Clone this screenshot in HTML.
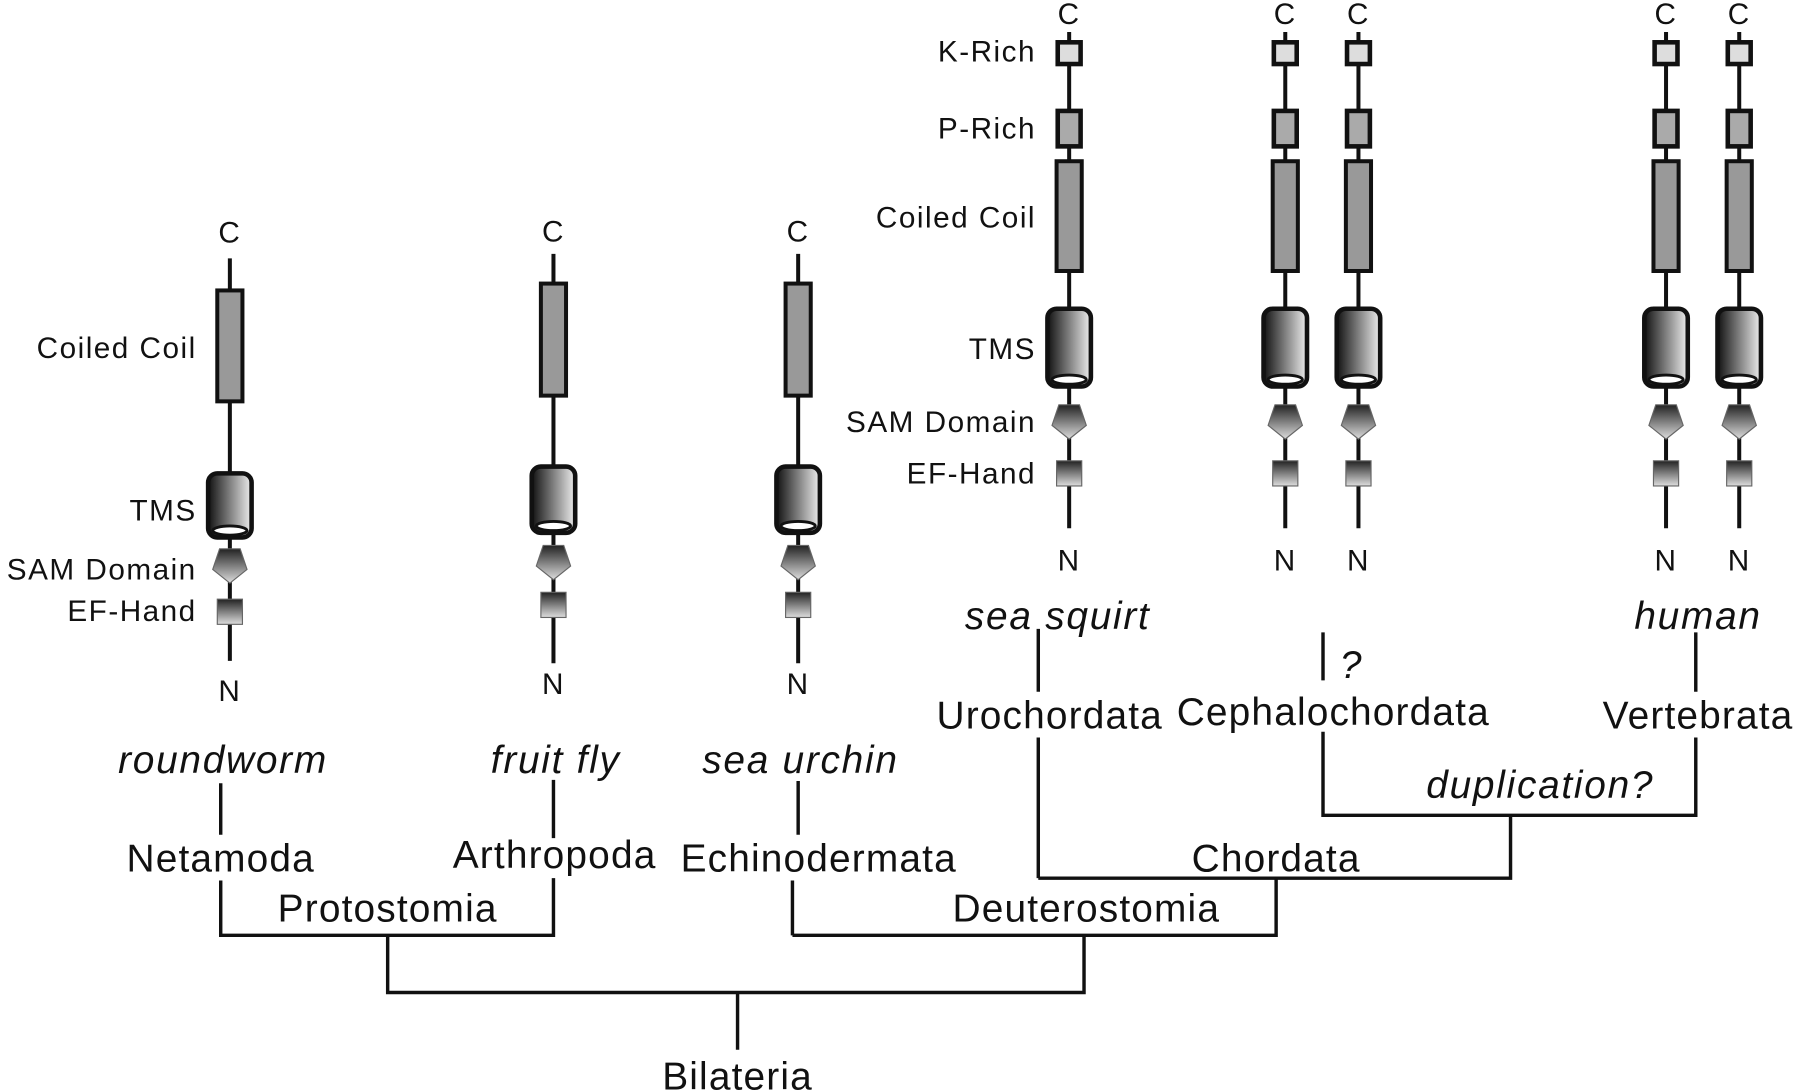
<!DOCTYPE html>
<html><head><meta charset="utf-8">
<style>
html,body{margin:0;padding:0;background:#fff;}
svg{display:block;}
text{font-family:"Liberation Sans",Arial,sans-serif;fill:#111;}
.t{font-size:34px;letter-spacing:1px;}
.i{font-size:34px;font-style:italic;letter-spacing:1.5px;}
.d{font-size:26px;letter-spacing:1.3px;}
</style></head>
<body>
<svg id="fig" width="1793" height="1092" viewBox="0 0 1568 955" xmlns="http://www.w3.org/2000/svg">
<defs>
<linearGradient id="cyl" x1="0" x2="1" y1="0" y2="0"><stop offset="0" stop-color="#111"/><stop offset="1" stop-color="#eee"/></linearGradient>
<linearGradient id="vg" x1="0" x2="0" y1="0" y2="1"><stop offset="0" stop-color="#222"/><stop offset="1" stop-color="#ddd"/></linearGradient>
</defs>
<g id="tree" stroke="#111" stroke-width="3" fill="none">
<path d="M193 685V730M193 770V818H484V768M484 682V733M339 818V868H948V818M693 818V770M698 683V730M693 818H1116V768M908 768H1321V713M908 768V645M908 550V605M1321 713H1157V640M1157 553V595M1157 713H1483V645M1483 553V605M645 868V918"/>
</g>
<g id="labels"></g>
<g id="prots"></g>
</svg>
<script>
const NS="http://www.w3.org/2000/svg";
const L=document.getElementById('labels'), P=document.getElementById('prots');
function mk(tag,attrs,parent){const e=document.createElementNS(NS,tag);for(const k in attrs)e.setAttribute(k,attrs[k]);parent.appendChild(e);return e;}
const treeLabels=[
["roundworm",195,676,"i"],["fruit fly",486,676,"i"],["sea urchin",700,676,"i"],
["sea squirt",925,550,"i"],["human",1485,550,"i"],["?",1182,593,"i"],
["Netamoda",193,762,"t"],["Arthropoda",485,759,"t"],["Echinodermata",716,762,"t"],
["Protostomia",339,806,"t"],["Deuterostomia",950,806,"t"],["Chordata",1116,762,"t"],
["Urochordata",918,637,"t"],["Cephalochordata",1166,634,"t"],["Vertebrata",1485,637,"t"],
["duplication?",1347,698,"i"],["Bilateria",645,953,"t"]];
treeLabels.forEach(l=>{const t=mk('text',{x:l[1],y:l[2],'text-anchor':'middle',class:l[3]},L);t.textContent=l[0];

});
const left=[[201,203,604,226,578,null,[254,351],[414,470],495,[524,546]],
[484,202,598,222,580,null,[248,346],[408,466],492,[518,540]],
[698,202,598,222,580,null,[248,346],[408,466],492,[518,540]]];
const rx=[935,1124,1188,1457,1521];
const right=rx.map(x=>[x,12,490,28,462,[[37,56],[97,128]],[141,237],[270,338],369,[403,425]]);
[...left,...right].forEach((p,idx)=>{
const [x,cy,ny,lt,lb,kp,coil,tms,pc,sq]=p;
const g=mk('g',{},P);


let t=mk('text',{x:x,y:cy+9,'text-anchor':'middle',class:'d'},g);t.textContent='C';
t=mk('text',{x:x,y:ny+9,'text-anchor':'middle',class:'d'},g);t.textContent='N';
mk('line',{x1:x,x2:x,y1:lt,y2:lb,stroke:'#111','stroke-width':3.5},g);
if(kp){mk('rect',{x:x-10,y:kp[0][0],width:20,height:kp[0][1]-kp[0][0],fill:'#ddd',stroke:'#111','stroke-width':4},g);
mk('rect',{x:x-10,y:kp[1][0],width:20,height:kp[1][1]-kp[1][0],fill:'#aaa',stroke:'#111','stroke-width':4},g);}
mk('rect',{x:x-11,y:coil[0],width:22,height:coil[1]-coil[0],fill:'#999',stroke:'#111','stroke-width':3.5},g);
const w=19,h=tms[1]-tms[0];
mk('rect',{x:x-w,y:tms[0],width:2*w,height:h,rx:8,fill:'url(#cyl)',stroke:'#111','stroke-width':4},g);
mk('ellipse',{cx:x,cy:tms[1]-6,rx:w-4,ry:4,fill:'#fff',stroke:'#111','stroke-width':2.5},g);
mk('polygon',{points:`${x-9},${pc-15} ${x+9},${pc-15} ${x+15},${pc+3} ${x},${pc+15} ${x-15},${pc+3}`,fill:'url(#vg)',stroke:'#666','stroke-width':1},g);
mk('rect',{x:x-11,y:sq[0],width:22,height:sq[1]-sq[0],fill:'url(#vg)',stroke:'#666','stroke-width':1},g);
});
const domainLabels=[["Coiled Coil",172,313],["TMS",172,455],["SAM Domain",172,507],["EF-Hand",172,543],
["K-Rich",906,54],["P-Rich",906,121],["Coiled Coil",906,199],["TMS",906,314],["SAM Domain",906,378],["EF-Hand",906,423]];
domainLabels.forEach(d=>{const t=mk('text',{x:d[1],y:d[2],'text-anchor':'end',class:'d'},L);t.textContent=d[0];

});
</script>
</body></html>
